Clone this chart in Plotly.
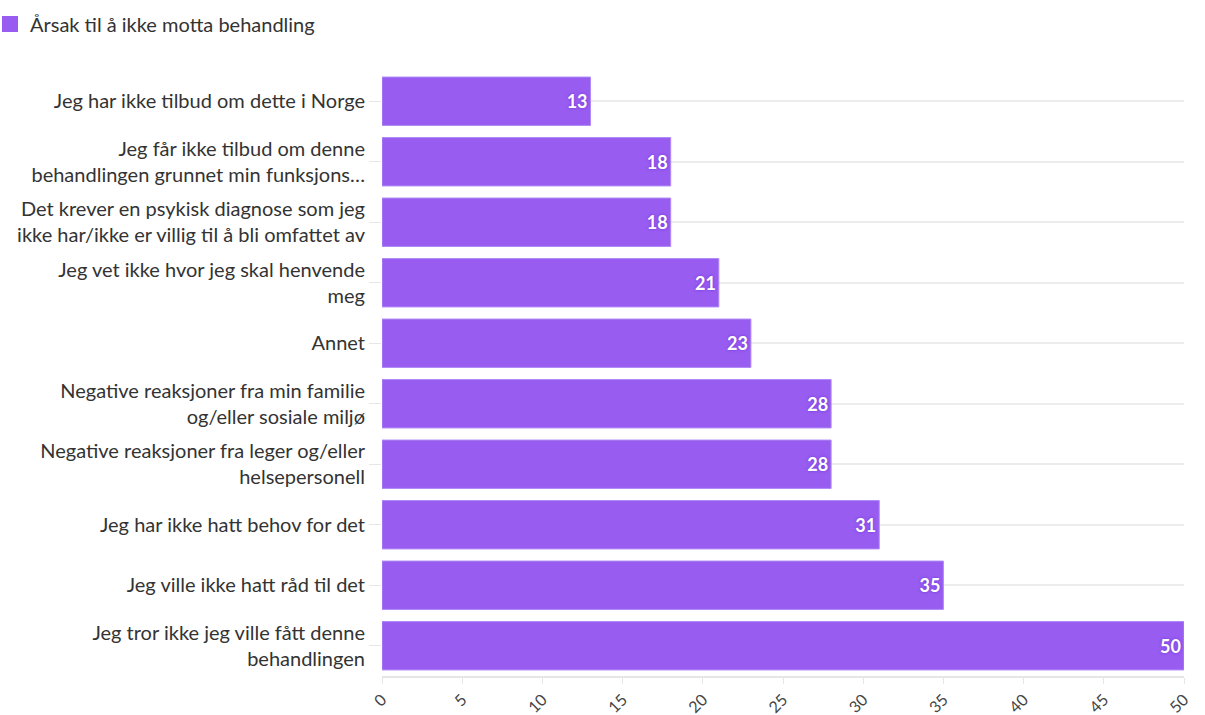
import plotly.graph_objects as go

categories = [
    "Jeg har ikke tilbud om dette i Norge",
    "Jeg får ikke tilbud om denne<br>behandlingen grunnet min funksjons…",
    "Det krever en psykisk diagnose som jeg<br>ikke har/ikke er villig til å bli omfattet av",
    "Jeg vet ikke hvor jeg skal henvende<br>meg",
    "Annet",
    "Negative reaksjoner fra min familie<br>og/eller sosiale miljø",
    "Negative reaksjoner fra leger og/eller<br>helsepersonell",
    "Jeg har ikke hatt behov for det",
    "Jeg ville ikke hatt råd til det",
    "Jeg tror ikke jeg ville fått denne<br>behandlingen",
]
values = [13, 18, 18, 21, 23, 28, 28, 31, 35, 50]
series_name = "Årsak til å ikke motta behandling"
x_ticks = [0, 5, 10, 15, 20, 25, 30, 35, 40, 45, 50]

FONT = "Lato, Source Sans Pro, Open Sans, sans-serif"
BAR = "#985cf1"

fig = go.Figure()
fig.add_trace(go.Bar(
    x=values, y=categories, orientation="h", name=series_name,
    showlegend=False,
    marker=dict(color=BAR, line=dict(color="#b08af5", width=1)),
    text=[str(v) for v in values], textposition="inside", insidetextanchor="end",
    textfont=dict(color="white", size=18, family=FONT, weight="bold",
                  shadow="0px 0px 3px #6f35d0"),
    cliponaxis=False,
))
# legend entry
fig.add_trace(go.Scatter(
    x=[None], y=[None], mode="markers", name=series_name,
    marker=dict(symbol="square", size=16, color=BAR),
    showlegend=True,
))
fig.update_layout(
    width=1205, height=715,
    margin=dict(l=382, r=21, t=71, b=39, autoexpand=False),
    paper_bgcolor="white", plot_bgcolor="white",
    font=dict(family=FONT, color="#333333", size=20),
    bargap=0.2,
    showlegend=True,
    legend=dict(orientation="h", xref="paper", yref="container",
                x=-392/802, y=1 - 24/715, xanchor="left", yanchor="middle",
                font=dict(size=20, color="#333333"), itemwidth=30,
                itemsizing="trace", bgcolor="rgba(0,0,0,0)"),
    xaxis=dict(range=[0, 50], tickvals=x_ticks, tickangle=-45,
               showgrid=False, zeroline=False, showline=True,
               linecolor="#e6e6e6", linewidth=2, ticks="outside",
               tickcolor="#e6e6e6", ticklen=6, automargin=False,
               tickfont=dict(size=16, color="#444444")),
    yaxis=dict(categoryorder="array", categoryarray=categories,
               autorange="reversed", showgrid=True, gridcolor="#ececec",
               gridwidth=1.5, ticks="outside", tickcolor="#e6e6e6",
               ticklen=12, tickfont=dict(size=20, color="#333333"),
               showline=False, zeroline=False, automargin=False),
)
fig.write_html("out.html")
